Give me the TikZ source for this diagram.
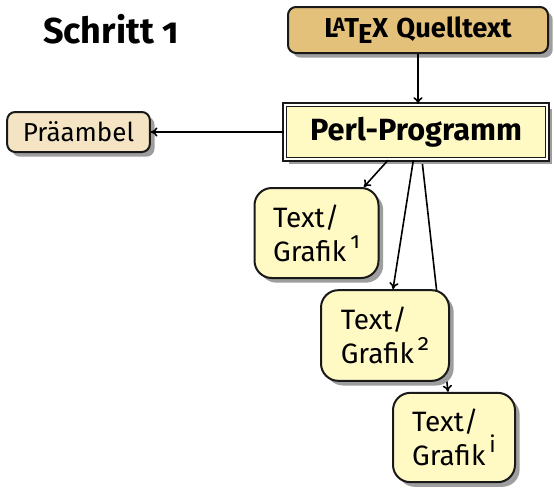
\documentclass[tikz,border=0pt]{standalone}
\usepackage{fontspec}
\setmainfont[Numbers=OldStyle]{Fira Sans}
\usetikzlibrary{shadows,backgrounds,arrows.meta}

\definecolor{quellfarbe}{HTML}{E3C17A}
\definecolor{praefarbe}{HTML}{F5E4C4}
\definecolor{gelb}{HTML}{FFF9C4}

\tikzset{every picture/.style={line width=0.75pt}}
\tikzset{
	schatten/.style={drop shadow={shadow xshift=3.5pt,shadow yshift=-3.5pt,fill=black!38,opacity=1}},
	kasten/.style={draw=black!90,line width=1.5pt,rounded corners=6pt,schatten,inner sep=0pt},
	tgbox/.style={kasten,fill=gelb,rounded corners=13pt,minimum width=93pt,minimum height=67.5pt,align=left,font=\fontsize{21}{25.5}\selectfont},
	pfeil/.style={-{To[length=5pt,width=7pt]},line width=1.2pt},
}
\newcommand{\hoch}[1]{\kern3pt\raisebox{9.5pt}{\fontsize{17}{17}\selectfont #1}}
\newcommand{\latexlogo}{L\kern-.18em\raisebox{.22em}{\fontsize{14.5}{15}\selectfont A}\kern-.02em T\kern-.04em\lower.45ex\hbox{E}\kern0em X}

\begin{document}
\begin{tikzpicture}[x=0.75pt,y=0.75pt,yscale=-1,xscale=1]
	\useasboundingbox (0,0) rectangle (554,487);
	
	% Titel
	\node (schritt) at (111,29) {\fontsize{27}{30}\selectfont\bfseries Schritt 1};
	
	% Kaesten
	\node [kasten,fill=quellfarbe,minimum width=195pt,minimum height=34.5pt] (quelle) at (418,30) {\fontsize{20.5}{24}\selectfont\bfseries\latexlogo\kern.3em Quelltext};
	\node [kasten,fill=gelb,rounded corners=0pt,double=white,double distance=1.6pt,line width=1.3pt,minimum width=197pt,minimum height=41pt] (perl) at (416,132) {\fontsize{23}{26}\selectfont\bfseries Perl-Programm};
	\node [kasten,fill=praefarbe,minimum width=107pt,minimum height=30pt] (praeambel) at (78.5,132) {\fontsize{19.5}{22}\selectfont Präambel};
	
	\node [tgbox] (tg1) at (316.5,233) {Text/\\Grafik\hoch{1}};
	\node [tgbox,minimum width=96pt,minimum height=68pt] (tg2) at (385,335.5) {Text/\\Grafik\hoch{2}};
	\node [tgbox,minimum width=91.5pt,minimum height=67pt] (tgi) at (454,437.5) {Text/\\Grafik\hoch{i}};
	
	% Verbindungen
	\draw [pfeil] (quelle.south) -- (quelle.south |- perl.north);
	\draw [pfeil] (perl.west) -- (praeambel.east);
	\draw [pfeil] ([xshift=-21pt]perl.south) -- ([xshift=35.5pt]tg1.north);
	\draw [pfeil] ([xshift=-2pt]perl.south) -- ([xshift=6pt]tg2.north);
	\begin{pgfonlayer}{background}
		\draw [pfeil] ([xshift=4.5pt]perl.south) -- ([xshift=-4.5pt]tgi.north);
	\end{pgfonlayer}
	
\end{tikzpicture}
\end{document}
